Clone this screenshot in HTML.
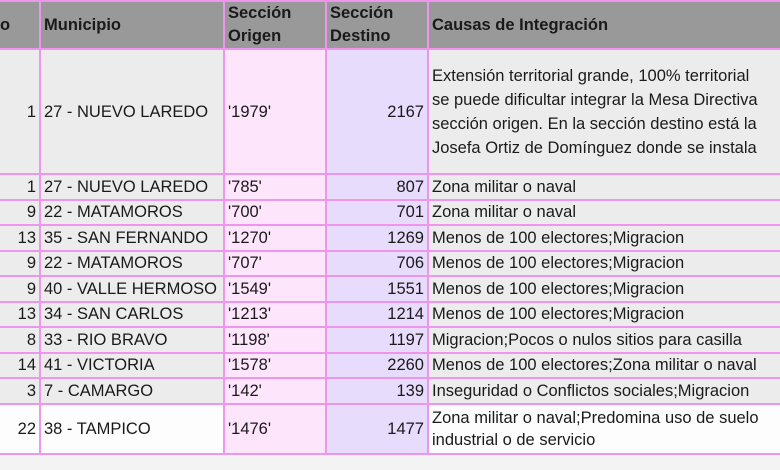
<!DOCTYPE html>
<html><head><meta charset="utf-8"><style>
html,body{margin:0;padding:0;width:780px;height:470px;overflow:hidden;background:#f4f3f4;}
table{position:absolute;left:-2px;top:0;width:809px;border-collapse:collapse;table-layout:fixed;font-family:"Liberation Sans",sans-serif;font-size:16.5px;color:#1a1a1a;}
td,th{border:2px solid #ee95ee;padding:0 3px;white-space:nowrap;overflow:hidden;line-height:20px;}
th{background:#999999;text-align:left;font-weight:bold;height:46px;color:#1a1a1a;line-height:23px;vertical-align:middle;}
td{background:#ececec;height:23.5px;}
td.n{text-align:right;}
td.o{background:#fde5fc;}
td.d{background:#e7dcfb;text-align:right;}
td.c{white-space:normal;line-height:24px;}
tr.w td{background:#fdfdfd;}
tr.w td.o{background:#fde5fc;}
tr.w td.d{background:#e7dcfb;}
</style></head><body>
<table>
<colgroup><col style="width:41px"><col style="width:184px"><col style="width:102px"><col style="width:102px"><col style="width:380px"></colgroup>
<tr><th style="padding-left:0">o</th><th>Municipio</th><th>Sección<br>Origen</th><th>Sección<br>Destino</th><th>Causas de Integración</th></tr>
<tr style="height:125px"><td class="n">1</td><td>27 - NUEVO LAREDO</td><td class="o">'1979'</td><td class="d">2167</td><td class="c" style="white-space:nowrap">Extensión territorial grande, 100% territorial<br>se puede dificultar integrar la Mesa Directiva<br>sección origen. En la sección destino está la<br>Josefa Ortiz de Domínguez donde se instala</td></tr>
<tr><td class="n">1</td><td>27 - NUEVO LAREDO</td><td class="o">'785'</td><td class="d">807</td><td>Zona militar o naval</td></tr>
<tr><td class="n">9</td><td>22 - MATAMOROS</td><td class="o">'700'</td><td class="d">701</td><td>Zona militar o naval</td></tr>
<tr><td class="n">13</td><td>35 - SAN FERNANDO</td><td class="o">'1270'</td><td class="d">1269</td><td>Menos de 100 electores;Migracion</td></tr>
<tr><td class="n">9</td><td>22 - MATAMOROS</td><td class="o">'707'</td><td class="d">706</td><td>Menos de 100 electores;Migracion</td></tr>
<tr><td class="n">9</td><td>40 - VALLE HERMOSO</td><td class="o">'1549'</td><td class="d">1551</td><td>Menos de 100 electores;Migracion</td></tr>
<tr><td class="n">13</td><td>34 - SAN CARLOS</td><td class="o">'1213'</td><td class="d">1214</td><td>Menos de 100 electores;Migracion</td></tr>
<tr><td class="n">8</td><td>33 - RIO BRAVO</td><td class="o">'1198'</td><td class="d">1197</td><td>Migracion;Pocos o nulos sitios para casilla</td></tr>
<tr><td class="n">14</td><td>41 - VICTORIA</td><td class="o">'1578'</td><td class="d">2260</td><td>Menos de 100 electores;Zona militar o naval</td></tr>
<tr><td class="n">3</td><td>7 - CAMARGO</td><td class="o">'142'</td><td class="d">139</td><td>Inseguridad o Conflictos sociales;Migracion</td></tr>
<tr class="w" style="height:50px"><td class="n">22</td><td>38 - TAMPICO</td><td class="o">'1476'</td><td class="d">1477</td><td class="c" style="white-space:nowrap;line-height:22px">Zona militar o naval;Predomina uso de suelo<br>industrial o de servicio</td></tr>
</table>
</body></html>
